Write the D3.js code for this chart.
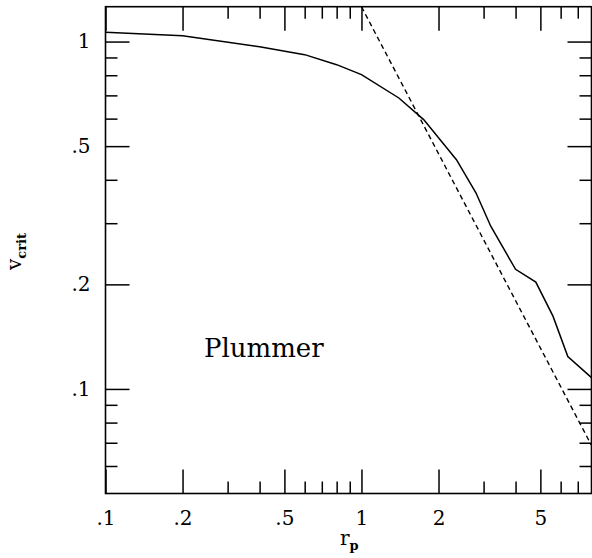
<!DOCTYPE html>
<html>
<head>
<meta charset="utf-8">
<script src="https://cdn.jsdelivr.net/npm/d3@7"></script>
<style>
  html, body { margin: 0; padding: 0; background: #fff; }
  svg { display: block; }
  text { font-family: "DejaVu Serif", "Liberation Serif", serif; fill: #000; }
</style>
</head>
<body>
<svg id="chart" width="592" height="558"></svg>
<script>
// ---- data ----
const rValues = [0.1, 0.2, 0.4, 0.6, 0.8, 1.0, 1.4, 1.75, 2.35, 2.8, 3.2, 4.0, 4.8, 5.6, 6.4, 7.9];
const vCrit   = [1.064, 1.040, 0.966, 0.917, 0.858, 0.803, 0.688, 0.596, 0.457, 0.367, 0.294, 0.221, 0.203, 0.162, 0.124, 0.108];
const rDash = [1.0, 7.9];
const vDash = [1.26, 0.069];
const xMajor = [0.1, 0.2, 0.5, 1, 2, 5];
const xMajorLabels = [".1", ".2", ".5", "1", "2", "5"];
const xMinor = [0.3, 0.4, 0.6, 0.7, 0.8, 0.9, 3, 4, 6, 7];
const yMajor = [0.1, 0.2, 0.5, 1];
const yMajorLabels = [".1", ".2", ".5", "1"];
const yMinor = [0.06, 0.07, 0.08, 0.09, 0.3, 0.4, 0.6, 0.7, 0.8, 0.9];
const labelText = "Plummer";

// ---- layout ----
const L = 105.5, R = 591.5, T = 6.7, B = 493.5;
const svg = d3.select("#chart");
const x = d3.scaleLog().domain([0.1, 7.92]).range([L, R]);
const y = d3.scaleLog().domain([0.05, 1.26]).range([B, T]);

svg.append("defs").append("clipPath").attr("id", "clip")
  .append("rect").attr("x", L).attr("y", T).attr("width", R - L).attr("height", B - T);

const plot = svg.append("g").attr("clip-path", "url(#clip)");

const line = d3.line().x(d => x(d[0])).y(d => y(d[1]));
plot.append("path")
  .datum(rValues.map((r, i) => [r, vCrit[i]]))
  .attr("d", line).attr("fill", "none").attr("stroke", "#000").attr("stroke-width", 1.5);
plot.append("path")
  .datum(rDash.map((r, i) => [r, vDash[i]]))
  .attr("d", line).attr("fill", "none").attr("stroke", "#000").attr("stroke-width", 1.4)
  .attr("stroke-dasharray", "5,3.5");

// ---- axes (ticks inward on all sides) ----
const majLen = 24, minLen = 12;
const tickStyle = sel => sel.attr("stroke", "#000").attr("stroke-width", 1.5).attr("fill", "none");
const axB = d3.axisBottom(x).tickValues(xMajor).tickSizeInner(-majLen).tickSizeOuter(0).tickFormat((d, i) => xMajorLabels[i]).tickPadding(17);
const axBm = d3.axisBottom(x).tickValues(xMinor).tickSizeInner(-minLen).tickSizeOuter(0).tickFormat("");
const axT = d3.axisTop(x).tickValues(xMajor).tickSizeInner(-majLen).tickSizeOuter(0).tickFormat("");
const axTm = d3.axisTop(x).tickValues(xMinor).tickSizeInner(-minLen).tickSizeOuter(0).tickFormat("");
const axL = d3.axisLeft(y).tickValues(yMajor).tickSizeInner(-majLen).tickSizeOuter(0).tickFormat((d, i) => yMajorLabels[i]).tickPadding(15);
const axLm = d3.axisLeft(y).tickValues(yMinor).tickSizeInner(-minLen).tickSizeOuter(0).tickFormat("");
const axR = d3.axisRight(y).tickValues(yMajor).tickSizeInner(-majLen).tickSizeOuter(0).tickFormat("");
const axRm = d3.axisRight(y).tickValues(yMinor).tickSizeInner(-minLen).tickSizeOuter(0).tickFormat("");

function draw(ax, tx, ty) {
  const g = svg.append("g").attr("transform", `translate(${tx},${ty})`).call(ax);
  g.select(".domain").remove();
  g.selectAll("line").call(tickStyle);
  g.selectAll("text").style("font-family", '"DejaVu Serif", serif').style("font-size", "20px").attr("fill", "#000");
  return g;
}
draw(axB, 0, B);
draw(axBm, 0, B);
draw(axT, 0, T);
draw(axTm, 0, T);
draw(axL, L, 0);
draw(axLm, L, 0);
draw(axR, R, 0);
draw(axRm, R, 0);

// frame
svg.append("rect").attr("x", L).attr("y", T).attr("width", R - L).attr("height", B - T)
  .attr("fill", "none").attr("stroke", "#000").attr("stroke-width", 1.6);

// ---- labels ----
svg.append("text").attr("x", 204).attr("y", 357).style("font-size", "26px").text(labelText);

const xt = svg.append("text").attr("x", 340).attr("y", 545).style("font-size", "20px");
xt.append("tspan").text("r");
xt.append("tspan").attr("dy", 5).style("font-size", "13px").style("font-weight", "bold").text("p");

const yt = svg.append("text").attr("transform", "translate(21,270) rotate(-90)").style("font-size", "20px");
yt.append("tspan").text("v");
yt.append("tspan").attr("dy", 5).style("font-size", "13px").style("font-weight", "bold").text("crit");
</script>
</body>
</html>
